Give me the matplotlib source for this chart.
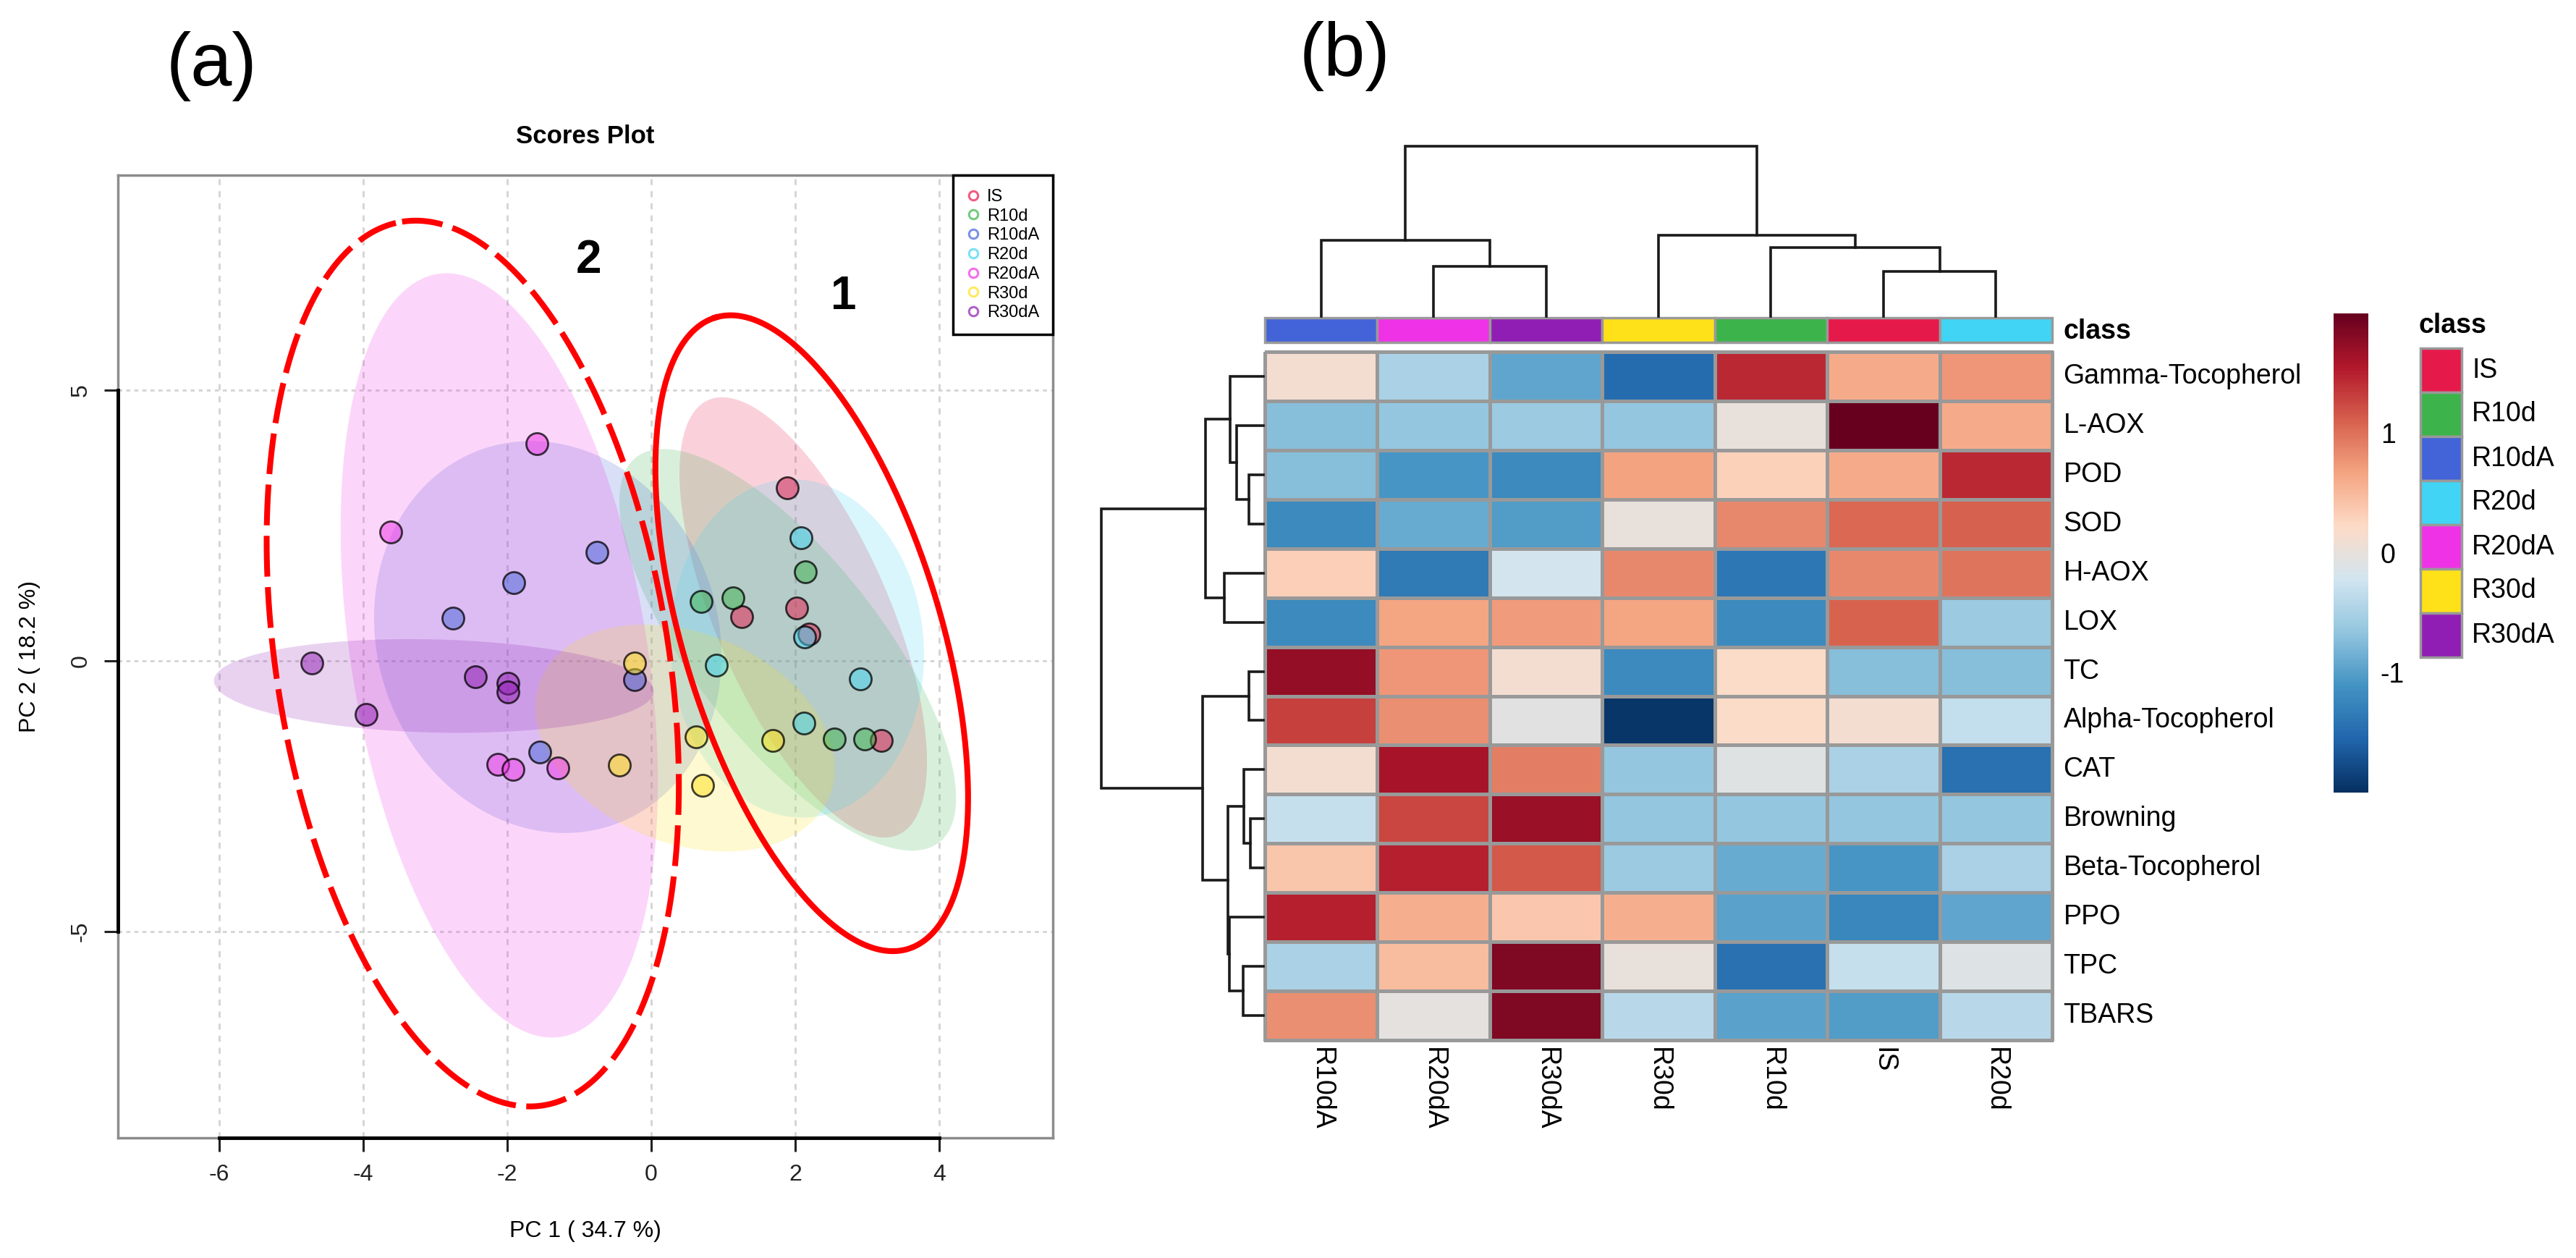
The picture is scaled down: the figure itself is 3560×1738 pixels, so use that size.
import numpy as np
import matplotlib
matplotlib.use('Agg')
import matplotlib.pyplot as plt
from matplotlib.colors import LinearSegmentedColormap, Normalize, to_rgba
from matplotlib.lines import Line2D
from matplotlib.patches import Rectangle
import matplotlib.cm as cm

plt.rcParams['font.family'] = ['Liberation Sans', 'DejaVu Sans']
plt.rcParams['axes.unicode_minus'] = False

# ---------------- data: PCA scores (panel a) ----------------
groups = ['IS', 'R10d', 'R10dA', 'R20d', 'R20dA', 'R30d', 'R30dA']
group_colors = ['#e6194B', '#3cb44b', '#4363d8', '#42d4f4', '#f032e6', '#ffe119', '#911eb4']

pc1_IS = [1.89, 1.26, 2.02, 2.19, 3.20]
pc2_IS = [3.20, 0.82, 0.97, 0.49, -1.47]
pc1_R10d = [2.14, 0.69, 1.14, 2.54, 2.97]
pc2_R10d = [1.64, 1.10, 1.16, -1.44, -1.44]
pc1_R10dA = [-0.75, -1.91, -2.75, -0.23, -1.55]
pc2_R10dA = [2.01, 1.44, 0.79, -0.35, -1.69]
pc1_R20d = [2.08, 2.13, 0.90, 2.91, 2.12]
pc2_R20d = [2.27, 0.44, -0.08, -0.33, -1.15]
pc1_R20dA = [-1.59, -3.62, -2.13, -1.92, -1.30]
pc2_R20dA = [4.01, 2.38, -1.91, -2.00, -1.98]
pc1_R30d = [-0.23, -0.44, 0.62, 1.69, 0.71]
pc2_R30d = [-0.04, -1.92, -1.40, -1.47, -2.30]
pc1_R30dA = [-4.72, -2.44, -1.99, -1.99, -3.96]
pc2_R30dA = [-0.04, -0.30, -0.41, -0.58, -0.99]

pc1 = {'IS': pc1_IS, 'R10d': pc1_R10d, 'R10dA': pc1_R10dA, 'R20d': pc1_R20d,
       'R20dA': pc1_R20dA, 'R30d': pc1_R30d, 'R30dA': pc1_R30dA}
pc2 = {'IS': pc2_IS, 'R10d': pc2_R10d, 'R10dA': pc2_R10dA, 'R20d': pc2_R20d,
       'R20dA': pc2_R20dA, 'R30d': pc2_R30d, 'R30dA': pc2_R30dA}

x_ticks = [-6, -4, -2, 0, 2, 4]
x_ticklabels = ['-6', '-4', '-2', '0', '2', '4']
y_ticks = [-5, 0, 5]
y_ticklabels = ['-5', '0', '5']

# hand-drawn cluster ellipses (centre, semi-axis vectors, data units)
cluster_labels = ['1', '2']
cluster_cx = [2.23, -2.48]
cluster_cy = [0.51, -0.05]
cluster_v1 = [(-1.34, 5.83), (-0.982, 8.16)]
cluster_v2 = [(1.71, 0.70), (2.69, 0.572)]
cluster_dashed = [False, True]
cluster_label_x = [2.67, -0.87]
cluster_label_y = [6.72, 7.39]

# ---------------- data: heatmap (panel b) ----------------
heat_rows = ['Gamma-Tocopherol', 'L-AOX', 'POD', 'SOD', 'H-AOX', 'LOX', 'TC',
             'Alpha-Tocopherol', 'CAT', 'Browning', 'Beta-Tocopherol', 'PPO', 'TPC', 'TBARS']
heat_cols = ['R10dA', 'R20dA', 'R30dA', 'R30d', 'R10d', 'IS', 'R20d']
heat_values = [
    [0.12, -0.50, -0.95, -1.50, 1.45, 0.62, 0.75],
    [-0.72, -0.65, -0.60, -0.65, 0.00, 2.00, 0.62],
    [-0.72, -1.08, -1.20, 0.68, 0.30, 0.62, 1.45],
    [-1.20, -0.90, -1.02, 0.00, 0.85, 1.05, 1.10],
    [0.32, -1.35, -0.20, 0.85, -1.38, 0.85, 0.98],
    [-1.20, 0.67, 0.72, 0.67, -1.20, 1.08, -0.60],
    [1.72, 0.75, 0.12, -1.20, 0.20, -0.72, -0.72],
    [1.30, 0.80, -0.05, -1.95, 0.20, 0.12, -0.32],
    [0.12, 1.62, 0.92, -0.65, -0.08, -0.50, -1.45],
    [-0.30, 1.25, 1.70, -0.65, -0.65, -0.65, -0.65],
    [0.40, 1.50, 1.15, -0.60, -0.90, -1.08, -0.50],
    [1.50, 0.58, 0.38, 0.58, -0.98, -1.22, -0.95],
    [-0.50, 0.48, 1.85, 0.00, -1.45, -0.30, -0.10],
    [0.80, -0.02, 1.85, -0.40, -0.98, -1.02, -0.40],
]
# dendrogram merges: (child a, child b, height); leaves 0..n-1, merge k -> n+k
col_merges = [(1, 2, 69), (5, 6, 62), (4, 8, 95), (0, 7, 105), (3, 9, 112), (10, 11, 235)]
row_merges = [(2, 3, 20), (1, 14, 36.7), (0, 15, 46), (4, 5, 54.3), (16, 17, 80),
              (6, 7, 20), (9, 10, 17.7), (8, 20, 26.7), (12, 13, 28), (11, 22, 46.7),
              (21, 23, 49.3), (19, 24, 84.3), (18, 25, 224.3)]
rdbu10 = ['#67001F', '#B2182B', '#D6604D', '#F4A582', '#FDDBC7',
          '#D1E5F0', '#92C5DE', '#4393C3', '#2166AC', '#053061']
cbar_ticks = [-1, 0, 1]

# ---------------- figure ----------------
W, H = 3560, 1738
fig = plt.figure(figsize=(W / 100, H / 100), dpi=100)


def frac(x0, y0, x1, y1):
    return [x0 / W, 1 - y1 / H, (x1 - x0) / W, (y1 - y0) / H]


# ===== panel (a) =====
ax = fig.add_axes(frac(163, 242, 1455, 1572))
xlim = (-7.41, 5.58)
ylim = (-8.81, 8.97)
ax.set_xlim(*xlim)
ax.set_ylim(*ylim)
for xt in x_ticks:
    ax.axvline(xt, color='#d3d3d3', ls=(0, (3, 3)), lw=2, zorder=0)
for yt in y_ticks:
    ax.axhline(yt, color='#d3d3d3', ls=(0, (2, 2)), lw=2, zorder=0)

tval = np.sqrt(-2 * np.log(0.05))
theta = np.linspace(0, 2 * np.pi, 300)
circ = np.vstack([np.cos(theta), np.sin(theta)])
for g, col in zip(groups, group_colors):
    pts = np.column_stack([pc1[g], pc2[g]])
    m = pts.mean(0)
    C = np.cov(pts.T)
    ev, evec = np.linalg.eigh(C)
    ell = (evec @ np.diag(np.sqrt(ev)) @ circ) * tval + m[:, None]
    ax.fill(ell[0], ell[1], color=col, alpha=0.2, lw=0, zorder=1)

for g, col in zip(groups, group_colors):
    ax.scatter(pc1[g], pc2[g], s=470, facecolor=to_rgba(col, 0.5),
               edgecolor=(0, 0, 0, 0.75), linewidth=2.0, zorder=3)

for lab, cx, cy, v1, v2, dsh, lx, ly in zip(cluster_labels, cluster_cx, cluster_cy,
                                             cluster_v1, cluster_v2, cluster_dashed,
                                             cluster_label_x, cluster_label_y):
    xs = cx + np.cos(theta) * v1[0] + np.sin(theta) * v2[0]
    ys = cy + np.cos(theta) * v1[1] + np.sin(theta) * v2[1]
    ax.plot(xs, ys, color='red', lw=5.8, ls=(0, (7, 1.8)) if dsh else '-', zorder=5)
    ax.text(lx, ly, lab, fontsize=46, fontweight='bold', ha='center', va='center', zorder=6)

for s in ax.spines.values():
    s.set_color('#8c8c8c')
    s.set_linewidth(2.5)
ax.plot([x_ticks[0], x_ticks[-1]], [ylim[0]] * 2, color='black', lw=3.5, clip_on=False, zorder=7)
ax.plot([xlim[0]] * 2, [y_ticks[0], y_ticks[-1]], color='black', lw=3.5, clip_on=False, zorder=7)
ax.set_xticks(x_ticks)
ax.set_xticklabels(x_ticklabels)
ax.set_yticks(y_ticks)
ax.set_yticklabels(y_ticklabels, rotation=90, va='center')
ax.tick_params(length=14, width=2.2, labelsize=23, pad=12, colors='#222222')

ax.text(0.5, -0.097, 'PC 1 ( 34.7 %)', transform=ax.transAxes, ha='center', va='center', fontsize=23)
ax.text(-0.0944, 0.5, 'PC 2 ( 18.2 %)', transform=ax.transAxes, ha='center', va='center',
        fontsize=23, rotation=90)
ax.text(0.5, 1.0406, 'Scores Plot', transform=ax.transAxes, ha='center', va='center',
        fontsize=25, fontweight='bold')

handles = [Line2D([], [], ls='none', marker='o', markersize=9, markerfacecolor='none',
                  markeredgecolor=to_rgba(c, 0.7), markeredgewidth=2.2) for c in group_colors]
leg = ax.legend(handles, groups, loc='upper right', bbox_to_anchor=(1, 1), borderaxespad=0,
                frameon=True, fancybox=False, edgecolor='black', framealpha=1, fontsize=17,
                handlelength=0.8, handletextpad=0.4, labelspacing=0.2, borderpad=0.8)
leg.get_frame().set_linewidth(2.5)
leg.set_zorder(10)

# ===== panel (b) =====
cmap = LinearSegmentedColormap.from_list('rdbu10', rdbu10[::-1], N=256)
norm = Normalize(-2, 2)
col_of = dict(zip(groups, group_colors))

hm = fig.add_axes(frac(1748, 486, 2836, 1437))
vals = np.array(heat_values)
mesh = hm.pcolormesh(np.arange(len(heat_cols) + 1), np.arange(len(heat_rows) + 1), vals,
                     cmap=cmap, norm=norm, edgecolors='#999999', linewidth=2.5)
mesh.set_clip_on(False)
hm.set_xlim(0, len(heat_cols))
hm.set_ylim(len(heat_rows), 0)
hm.axis('off')
for i, name in enumerate(heat_rows):
    hm.text(len(heat_cols) + 0.1, i + 0.5, name, fontsize=27, va='center', ha='left')
for j, name in enumerate(heat_cols):
    hm.text(j + 0.5, len(heat_rows) + 0.15, name, fontsize=27, rotation=270,
            ha='center', va='top')

cb = fig.add_axes(frac(1748, 439, 2836, 473))
for j, name in enumerate(heat_cols):
    cb.add_patch(Rectangle((j, 0), 1, 1, fc=col_of[name], ec='#999999', lw=2.5, clip_on=False))
cb.set_xlim(0, len(heat_cols))
cb.set_ylim(0, 1)
cb.axis('off')
cb.text(len(heat_cols) + 0.1, 0.45, 'class', fontsize=27, fontweight='bold', va='center', ha='left')


def draw_dendro(axd, merges, n, orient):
    pos = {i: i + 0.5 for i in range(n)}
    hgt = {i: 0.0 for i in range(n)}
    for k, (a, b, h) in enumerate(merges):
        pa, pb = pos[a], pos[b]
        if orient == 'top':
            xs, ys = [pa, pa, pb, pb], [hgt[a], h, h, hgt[b]]
        else:
            xs, ys = [hgt[a], h, h, hgt[b]], [pa, pa, pb, pb]
        axd.plot(xs, ys, color='#1a1a1a', lw=2.6, clip_on=False, solid_joinstyle='miter')
        pos[n + k] = (pa + pb) / 2
        hgt[n + k] = h
    return max(h for _, _, h in merges)


cd = fig.add_axes(frac(1748, 202, 2836, 437))
top = draw_dendro(cd, col_merges, len(heat_cols), 'top')
cd.set_xlim(0, len(heat_cols))
cd.set_ylim(0, top)
cd.axis('off')

rd = fig.add_axes(frac(1521.7, 486, 1746, 1437))
top_r = draw_dendro(rd, row_merges, len(heat_rows), 'left')
rd.set_xlim(top_r, 0)
rd.set_ylim(len(heat_rows), 0)
rd.axis('off')

cax = fig.add_axes(frac(3225, 433, 3273, 1095))
cbar = fig.colorbar(cm.ScalarMappable(norm=norm, cmap=cmap), cax=cax, ticks=cbar_ticks)
cbar.outline.set_visible(False)
cax.set_yticklabels([str(t) for t in cbar_ticks])
cax.tick_params(length=0, labelsize=27, pad=12)

# overlay for legend & panel labels (pixel layout)
ov = fig.add_axes([0, 0, 1, 1])
ov.set_xlim(0, W)
ov.set_ylim(H, 0)
ov.axis('off')
ov.text(3342, 450, 'class', fontsize=27, fontweight='bold', ha='left', va='center')
for i, (g, c) in enumerate(zip(groups, group_colors)):
    ov.add_patch(Rectangle((3345, 481 + 61 * i), 57, 61, fc=c, ec='#999999', lw=2.5))
    ov.text(3416, 481 + 61 * (i + 0.5), g, fontsize=27, ha='left', va='center')
ov.text(292, 92, '(a)', fontsize=74, ha='center', va='center')
ov.text(1858, 78, '(b)', fontsize=74, ha='center', va='center')

fig.savefig('out.png', dpi=100, facecolor='white')
